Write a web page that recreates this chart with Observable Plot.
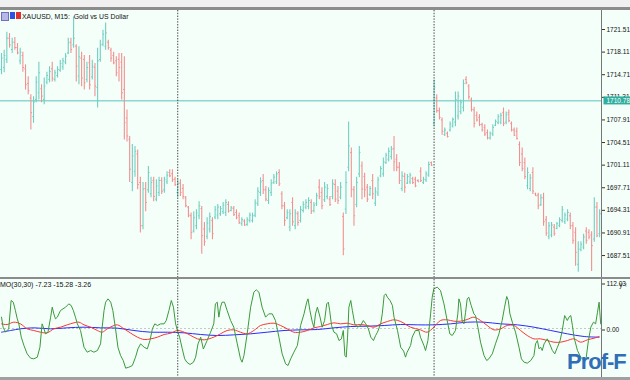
<!DOCTYPE html>
<html><head><meta charset="utf-8">
<script src="https://cdn.jsdelivr.net/npm/d3@7"></script>
<script src="https://cdn.jsdelivr.net/npm/@observablehq/plot@0.6"></script>
<style>
html,body{margin:0;padding:0;}
body{width:630px;height:380px;overflow:hidden;background:#ececec;font-family:"Liberation Sans",Arial,sans-serif;}
#wrap{position:relative;width:630px;height:380px;}
#topbar{position:absolute;left:0;top:0;width:630px;height:7px;background:#f0f0f0;border-bottom:3px solid #8c8c8c;}
#main{position:absolute;left:0;top:10px;}
#sep{position:absolute;left:0;top:277px;width:630px;height:2px;background:#8c8c8c;}
#ind{position:absolute;left:0;top:279px;}
#bottom{position:absolute;left:0;top:377px;width:630px;height:3px;background:#a0a0a0;}
#title{position:absolute;left:22px;top:12.5px;font-size:6.9px;color:#111;white-space:pre;}
#icons{position:absolute;left:1px;top:12px;height:8px;}
#icons span{position:absolute;top:0;height:7px;}
#indlabel{position:absolute;left:0px;top:281px;font-size:7px;color:#111;white-space:pre;}
#logo{position:absolute;left:567px;top:350px;font-size:22px;line-height:24px;font-weight:bold;color:#2f6fb8;font-family:"Liberation Sans",Arial,sans-serif;letter-spacing:-1px;}
</style></head>
<body><div id="wrap">
<div id="topbar"></div>
<div id="main"></div>
<div id="sep"></div>
<div id="ind"></div>
<div id="bottom"></div>
<div id="icons"><span style="left:0;width:6px;background:#b8b8e8;border:1px solid #7070c0"></span><span style="left:9px;width:5px;background:#3050e0"></span><span style="left:15px;width:5px;background:#e03030"></span></div>
<div id="title">XAUUSD, M15:  Gold vs US Dollar</div>
<div id="indlabel">MO(30,30) -7.23 -15.28 -3.26</div>
<div id="logo">Prof-F</div>
</div>
<script>
// ---- OHLC data (XAUUSD M15), oldest first ----
const open = [
1715.5,1715.8,1717.0,1720.2,1718.5,1719.6,1718.8,1716.8,1717.6,1715.6,
1713.4,1711.2,1708.4,1711.0,1712.0,1712.6,1711.0,1713.6,1714.0,1715.6,
1714.0,1714.6,1715.4,1715.9,1716.6,1718.0,1719.6,1719.2,1719.0,1714.5,
1717.2,1717.0,1714.0,1716.5,1714.4,1715.8,1712.8,1717.0,1719.3,1719.0,
1719.6,1718.4,1717.6,1716.8,1717.0,1716.6,1712.5,1708.2,1705.0,1698.5,
1700.2,1702.8,1698.5,1692.0,1697.6,1697.4,1696.8,1698.8,1696.0,1697.0,
1698.8,1697.4,1698.6,1700.0,1699.8,1699.0,1697.0,1698.4,1697.6,1696.2,
1694.8,1693.5,1691.2,1692.0,1693.5,1694.6,1691.5,1690.4,1691.5,1692.8,
1693.3,1693.6,1693.8,1694.1,1694.0,1695.2,1694.3,1694.6,1694.0,1693.5,
1692.3,1692.7,1692.2,1692.8,1692.8,1693.6,1695.4,1697.0,1698.8,1697.4,
1695.8,1697.0,1698.5,1698.6,1700.0,1696.8,1695.0,1693.2,1691.8,1695.5,
1692.0,1693.8,1692.8,1694.3,1694.8,1694.9,1695.5,1694.3,1695.3,1697.8,
1697.0,1695.9,1696.4,1696.0,1696.4,1698.2,1697.2,1696.3,1693.4,1694.5,
1700.8,1703.0,1697.4,1695.2,1699.8,1701.0,1699.4,1697.8,1696.7,1698.8,
1695.4,1696.9,1699.5,1699.8,1701.5,1702.0,1702.4,1703.6,1702.0,1700.8,
1697.6,1699.4,1698.4,1698.6,1699.1,1699.0,1698.8,1700.2,1698.5,1698.9,
1699.6,1701.5,1707.4,1711.2,1709.3,1707.9,1705.7,1705.9,1706.4,1707.0,
1707.6,1708.5,1709.2,1709.8,1714.0,1713.0,1710.9,1709.4,1708.6,1708.3,
1707.2,1706.8,1706.0,1705.2,1705.8,1707.1,1707.5,1707.6,1709.0,1707.6,
1709.0,1707.4,1706.4,1706.2,1704.2,1702.8,1701.5,1698.0,1697.6,1700.0,
1696.8,1696.6,1695.2,1696.2,1692.9,1690.4,1690.6,1691.8,1691.6,1692.0,
1692.8,1692.6,1693.0,1693.5,1692.0,1691.0,1686.2,1688.4,1688.8,1691.2,
1691.0,1690.6,1690.0,1694.8,1690.8];
const high = [
1717.9,1718.4,1721.1,1720.9,1720.2,1720.3,1719.4,1718.7,1718.1,1716.2,
1714.4,1711.7,1711.4,1714.4,1716.6,1713.2,1714.2,1715.1,1715.9,1716.6,
1715.4,1715.9,1716.9,1717.2,1717.9,1720.2,1720.2,1723.4,1719.2,1718.9,
1718.1,1717.6,1716.6,1717.6,1716.9,1716.4,1718.7,1719.9,1721.4,1722.5,
1719.9,1718.7,1718.1,1717.4,1717.9,1717.9,1717.4,1709.4,1705.4,1704.2,
1703.9,1703.4,1699.3,1698.5,1698.5,1700.9,1699.3,1699.3,1698.9,1699.3,
1699.2,1699.3,1700.1,1700.4,1700.4,1699.3,1698.9,1698.9,1698.2,1696.4,
1694.9,1693.9,1694.1,1694.4,1695.6,1694.9,1692.5,1693.2,1693.9,1693.2,
1694.9,1695.2,1694.9,1695.5,1695.9,1695.6,1694.9,1694.9,1694.4,1693.9,
1693.2,1692.9,1693.2,1693.9,1693.9,1695.9,1697.7,1699.2,1699.7,1697.9,
1697.7,1698.9,1699.7,1700.1,1700.4,1697.1,1695.5,1694.4,1694.4,1696.2,
1694.4,1694.1,1694.9,1695.6,1695.9,1696.2,1695.9,1695.5,1696.9,1698.9,
1697.7,1698.5,1698.2,1696.4,1698.9,1698.9,1697.9,1698.5,1693.9,1700.1,
1707.6,1703.7,1697.9,1699.3,1703.9,1701.6,1699.9,1698.2,1697.9,1699.7,
1697.7,1699.3,1700.9,1702.2,1702.9,1703.7,1703.9,1705.4,1702.7,1701.5,
1700.1,1699.9,1699.7,1699.9,1699.3,1699.3,1698.9,1700.7,1699.3,1700.1,
1701.6,1701.6,1713.9,1711.7,1709.7,1708.2,1706.7,1706.1,1707.6,1708.2,
1712.1,1712.1,1710.9,1713.9,1714.4,1713.2,1711.2,1709.8,1709.1,1708.7,
1707.4,1707.2,1706.4,1706.1,1707.2,1707.9,1708.7,1708.9,1709.7,1709.1,
1709.4,1707.6,1706.7,1706.7,1704.6,1703.7,1702.2,1700.7,1699.7,1700.7,
1696.9,1696.9,1696.7,1696.9,1693.4,1692.5,1692.5,1692.2,1692.5,1693.2,
1694.9,1693.9,1694.4,1693.9,1692.5,1691.7,1689.6,1689.6,1690.7,1691.7,
1691.4,1691.1,1696.2,1695.5,1694.4];
const low = [
1714.7,1715.0,1716.4,1718.7,1717.9,1718.4,1717.7,1716.2,1715.1,1712.4,
1711.7,1706.4,1707.4,1710.5,1710.9,1710.5,1710.2,1713.2,1713.5,1713.6,
1713.6,1714.2,1715.1,1715.4,1716.2,1717.7,1717.9,1718.7,1713.6,1713.2,
1712.9,1712.4,1713.5,1712.4,1713.9,1711.4,1709.7,1716.6,1718.9,1718.4,
1718.4,1716.6,1716.2,1714.4,1713.6,1710.9,1704.9,1704.6,1698.5,1697.1,
1699.3,1697.4,1690.9,1691.4,1694.1,1696.9,1696.2,1695.6,1695.6,1696.4,
1696.7,1696.9,1698.2,1699.2,1698.5,1697.9,1696.2,1696.4,1695.9,1694.7,
1693.2,1689.9,1690.9,1691.4,1692.9,1687.7,1688.9,1689.9,1690.9,1689.9,
1692.9,1692.9,1693.4,1693.7,1693.4,1693.9,1694.1,1693.4,1692.9,1692.2,
1691.9,1691.9,1691.9,1692.4,1692.4,1693.2,1694.9,1696.4,1696.7,1695.6,
1695.2,1696.4,1698.2,1698.2,1697.9,1694.4,1691.9,1692.9,1691.1,1691.9,
1691.4,1691.9,1692.4,1693.9,1694.4,1694.4,1693.7,1693.9,1694.9,1695.9,
1694.4,1695.5,1695.9,1694.9,1695.9,1695.5,1695.2,1695.9,1687.5,1693.7,
1700.1,1696.2,1691.9,1694.7,1699.2,1695.9,1696.2,1695.5,1696.4,1695.9,
1694.9,1696.4,1699.2,1699.3,1701.2,1701.6,1701.9,1700.1,1700.1,1698.2,
1697.1,1696.9,1698.2,1698.2,1698.2,1697.7,1698.5,1698.5,1698.2,1698.5,
1699.3,1700.9,1706.9,1708.9,1707.9,1705.6,1705.4,1705.2,1706.1,1706.7,
1706.9,1707.9,1708.7,1709.1,1713.2,1710.9,1709.1,1706.7,1707.6,1706.9,
1706.1,1705.4,1704.9,1704.9,1705.4,1706.9,1707.2,1707.2,1706.9,1707.2,
1707.5,1706.1,1705.4,1704.9,1700.9,1700.1,1698.9,1697.4,1697.1,1696.7,
1696.4,1694.4,1694.9,1691.9,1690.4,1689.9,1690.2,1690.4,1691.4,1691.7,
1692.4,1692.2,1692.6,1691.4,1689.2,1685.9,1685.0,1688.1,1688.4,1689.2,
1689.9,1685.1,1689.5,1690.2,1690.2];
const close = [
1717.2,1717.6,1720.2,1719.2,1719.6,1718.8,1718.0,1718.1,1715.8,1713.2,
1712.3,1709.0,1710.6,1713.6,1715.0,1711.5,1713.0,1714.6,1715.2,1714.2,
1715.0,1715.5,1716.4,1716.8,1717.5,1719.5,1718.5,1720.2,1716.0,1717.4,
1714.2,1713.5,1715.8,1713.2,1716.0,1713.0,1716.8,1719.2,1720.8,1721.0,
1718.8,1717.2,1716.5,1715.0,1715.8,1712.0,1707.5,1705.5,1700.5,1702.5,
1703.2,1698.2,1692.0,1697.5,1695.5,1700.0,1698.5,1696.4,1698.0,1698.8,
1697.2,1698.9,1699.6,1699.5,1698.9,1698.2,1698.4,1697.0,1696.4,1695.0,
1693.6,1691.0,1693.2,1693.9,1695.0,1690.5,1689.6,1692.4,1693.4,1690.8,
1694.4,1694.8,1694.6,1695.1,1695.5,1694.2,1694.7,1693.7,1693.2,1692.5,
1692.9,1692.1,1692.9,1693.6,1693.5,1695.4,1697.2,1698.6,1697.4,1696.0,
1697.3,1698.4,1699.3,1699.8,1698.3,1695.0,1692.8,1694.0,1693.8,1692.6,
1693.9,1692.5,1694.4,1695.2,1695.5,1695.8,1694.2,1695.1,1696.5,1696.4,
1695.0,1697.8,1697.6,1695.2,1698.3,1696.0,1695.8,1697.8,1688.5,1698.5,
1704.0,1697.5,1693.5,1698.5,1703.0,1697.5,1697.4,1696.0,1697.6,1696.8,
1697.1,1698.9,1700.6,1701.6,1702.6,1703.2,1703.5,1701.6,1700.8,1698.8,
1699.5,1697.8,1699.4,1699.6,1698.5,1698.0,1698.6,1698.8,1699.0,1699.8,
1701.2,1701.1,1712.8,1709.3,1708.3,1706.2,1706.4,1705.4,1707.3,1708.0,
1711.0,1711.5,1710.5,1713.4,1713.5,1711.4,1709.5,1707.4,1707.9,1707.2,
1706.4,1705.8,1705.2,1705.9,1706.8,1707.7,1708.4,1708.6,1707.4,1708.7,
1707.8,1706.4,1705.6,1705.1,1701.5,1700.6,1699.4,1700.0,1699.2,1697.2,
1696.5,1695.0,1696.2,1692.6,1690.9,1692.0,1692.1,1690.8,1692.3,1692.9,
1694.4,1693.6,1694.0,1692.0,1689.8,1688.0,1688.5,1689.2,1690.3,1689.8,
1690.3,1689.0,1694.8,1690.5,1693.8];

// day separators (bar index where a new day starts)
const daySeparators = [66, 162];
// horizontal line object
const hLinePrice = 1710.78;
// price axis ticks
const priceTicks = [1721.51,1718.11,1714.71,1711.31,1707.91,1704.51,1701.11,1697.71,1694.31,1690.91,1687.51];

// ---- oscillator sub-window (bar index, value) ----
const greenX = [0,0.6,1.5,2.7,3.6,4.4,5.2,5.9,6.5,7.4,8.4,9.6,10.9,12.1,13.4,14.4,15.2,15.9,16.5,17.4,18.4,19.0,19.6,20.2,20.9,22.1,24.0,25.2,26.1,26.9,27.7,28.4,29.6,30.9,32.1,33.4,34.6,35.9,37.1,37.7,38.4,39.0,39.9,40.9,41.7,42.7,43.6,44.6,45.6,46.5,47.7,49.0,50.2,51.1,52.1,53.4,54.6,55.6,56.5,57.4,58.4,59.6,60.9,61.7,62.7,63.6,64.4,65.2,65.9,66.7,67.7,68.6,69.4,70.6,71.9,72.7,73.6,74.6,75.6,77.0,78.3,79.5,80.1,80.8,81.4,82.0,82.6,83.5,84.5,85.8,87.0,88.3,89.5,90.1,90.8,92.0,93.3,94.5,95.4,96.4,97.6,98.9,100.1,101.4,102.6,103.9,105.1,106.4,107.3,108.3,109.5,110.8,112.0,113.3,114.3,114.8,115.5,116.4,117.0,117.6,118.3,119.3,120.1,121.0,121.8,122.4,122.9,123.6,124.5,125.5,126.4,127.3,128.0,128.6,129.1,129.6,130.1,130.8,131.4,132.3,133.3,134.5,135.5,136.4,137.4,138.3,139.3,140.1,140.8,142.0,142.6,143.3,143.9,144.5,145.5,146.4,147.0,148.3,149.5,150.6,151.3,151.9,153.2,153.8,155.0,156.3,156.9,158.2,158.8,159.7,160.7,161.3,161.9,163.2,164.4,165.7,166.9,167.9,168.8,170.0,170.9,171.3,171.9,172.5,173.2,173.8,174.4,175.0,175.9,176.9,177.5,178.4,179.4,180.7,181.7,182.5,183.8,185.0,186.3,187.5,188.4,189.2,189.8,190.4,191.3,192.5,193.8,194.7,195.7,196.9,198.2,199.4,200.0,200.7,201.3,201.9,202.5,203.2,204.4,205.3,206.3,207.2,208.2,209.2,210.0,210.9,211.9,212.5,213.2,213.8,214.4,215.7,216.9,218.2,219.0,219.8,220.7,221.7,222.5,223.2,223.8,224.4];
const greenY = [27.6,3.2,-9.0,-0.8,68.2,64.1,43.8,23.5,11.3,-21.1,-41.4,-61.7,-72.3,-73.9,-69.8,-45.5,11.3,-0.8,-13.0,-9.0,27.6,51.9,35.7,23.5,27.6,43.8,51.9,60.0,56.0,43.8,27.6,11.3,-4.9,-45.5,-57.7,-53.6,-57.7,-53.6,-37.4,3.2,43.8,64.1,72.2,64.1,43.8,-0.8,-45.5,-65.8,-78.0,-96.6,-94.2,-90.1,-69.8,-49.6,-37.4,-45.5,-49.6,-29.3,-0.8,11.3,7.3,11.3,11.3,19.5,43.8,68.2,51.9,11.3,-4.9,-21.1,-49.6,-73.9,-82.0,-87.7,-82.0,-69.8,-37.4,-21.1,-50.0,-29.3,-9.0,11.3,60.0,64.1,27.6,51.9,64.1,64.1,43.8,19.5,3.2,-37.4,-73.9,-82.0,-65.8,-13.0,51.9,88.4,94.1,88.4,51.9,27.6,35.7,35.7,19.5,-21.1,-61.7,-86.1,-90.1,-73.9,-57.7,-41.4,7.3,35.7,64.1,72.2,43.8,15.4,3.2,35.7,51.9,27.6,3.2,19.5,60.0,64.1,43.8,7.3,-9.0,-13.0,-29.3,-25.2,-4.9,-65.8,-69.8,-21.1,51.9,68.2,43.8,11.3,3.2,7.3,19.5,11.3,-0.8,-21.1,-29.3,-17.1,-9.0,11.3,35.7,80.3,84.4,76.3,68.2,56.0,27.6,-4.9,-45.5,-55.0,-69.8,-57.7,-41.4,-21.1,-4.9,-4.9,-21.1,-41.4,-53.6,-29.3,35.7,76.3,96.6,100.6,92.5,60.0,19.5,-13.0,-17.1,-4.9,35.7,72.2,60.0,19.5,11.3,39.7,72.2,76.3,56.0,35.7,31.6,3.2,-33.3,-65.8,-78.0,-73.9,-61.7,-37.4,-13.0,19.5,51.9,77.9,68.2,35.7,15.4,-9.0,-45.5,-73.9,-82.0,-84.4,-78.0,-65.8,-37.4,-29.3,-49.6,-45.5,-53.6,-37.4,-25.2,-37.4,-53.6,-61.7,-45.5,-29.3,-4.9,31.6,19.5,27.6,31.6,7.3,-21.1,-53.6,-69.8,-78.0,-69.8,-29.3,3.2,15.4,11.3,39.7,64.1,11.3];
const redX = [0,2.1,4.6,7.1,9.6,12.1,14.6,17.1,19.6,22.1,24.6,27.1,29.0,30.9,33.4,35.9,37.7,39.6,42.1,43.4,45.9,48.4,50.9,53.4,55.9,58.4,60.9,63.4,65.9,68.4,70.9,73.4,75.9,79.5,82.0,84.5,87.0,89.5,92.0,94.5,97.0,99.5,102.0,104.5,107.0,109.5,112.0,114.5,117.0,119.5,122.0,124.5,127.0,129.5,132.0,134.5,137.0,139.5,142.0,144.5,147.0,149.5,153.2,156.9,159.4,161.9,164.4,166.9,169.4,171.9,174.4,176.9,179.4,181.9,184.4,186.9,189.4,191.9,194.4,196.9,199.4,201.9,204.4,206.9,209.4,211.9,214.4,216.9,219.4,221.9,223.8];
const redY = [11.3,9.7,15.4,11.3,-0.8,-4.9,-9.0,-10.6,-0.8,3.2,8.9,13.8,15.4,8.9,3.2,-4.9,-9.0,-0.8,7.3,8.9,-0.8,-11.4,-21.1,-26.8,-25.2,-21.1,-14.6,-11.4,-4.9,-9.0,-17.1,-25.2,-27.6,-21.1,-13.0,-4.9,-3.3,-9.0,-13.0,-4.9,7.3,11.3,12.9,7.3,-0.8,-9.0,-9.0,-4.9,1.6,4.8,9.7,13.8,11.3,12.9,8.9,9.7,7.3,3.2,11.3,17.0,21.1,17.0,3.2,-3.3,-9.0,3.2,19.5,21.1,17.8,17.8,21.9,27.6,19.5,7.3,-3.3,-0.8,7.3,7.3,-4.9,-17.1,-25.2,-25.2,-29.3,-33.3,-33.3,-29.3,-25.2,-33.3,-27.6,-23.6,-19.5];
const blueX = [0,3.4,7.1,12.1,18.4,24.6,30.9,37.1,43.4,49.6,55.9,62.1,68.4,74.6,80.8,87.0,93.3,99.5,105.8,112.0,118.3,124.5,130.8,137.0,143.3,149.5,155.7,161.9,168.2,174.4,180.7,186.9,193.2,199.4,205.7,211.9,218.2,223.8];
const blueY = [-9.0,-4.9,-0.8,1.6,-0.8,1.6,3.2,1.6,0.8,-4.9,-9.0,-9.0,-10.6,-14.6,-17.1,-15.5,-13.0,-9.0,-4.9,-3.3,-2.5,1.6,4.8,5.6,7.3,9.7,8.9,8.9,11.3,15.4,15.4,11.3,8.9,3.2,-4.9,-13.0,-19.5,-21.1];
const oscTicks = [112.03, 0.00];

const teal = "#6fcfc0", salmon = "#f29090";
const N = close.length;
const bars = d3.range(N).map(i => ({i, o: open[i], h: high[i], l: low[i], c: close[i]}));
const barColor = d => d.c >= d.o ? teal : salmon;
const xDomain = [-0.375, N - 0.3];
const fontFam = '"Liberation Sans", Arial, sans-serif';

const main = Plot.plot({
  width: 630, height: 267,
  marginLeft: 0, marginRight: 29, marginTop: 0, marginBottom: 0,
  style: {background: "#f5fffa", fontFamily: fontFam, fontSize: "6.5px", color: "#111", overflow: "visible"},
  color: {type: "identity"},
  x: {domain: xDomain, axis: null},
  y: {domain: [1684.21, 1724.37], axis: null},
  marks: [
    Plot.ruleY([hLinePrice], {stroke: "#57c4bc", strokeWidth: 1}),
    Plot.ruleX(bars, {x: "i", y1: "l", y2: "h", stroke: barColor, strokeWidth: 1.1}),
    Plot.link(bars, {x1: d => d.i - 0.45, x2: "i", y1: "o", y2: "o", stroke: barColor, strokeWidth: 1}),
    Plot.link(bars, {x1: "i", x2: d => d.i + 0.45, y1: "c", y2: "c", stroke: barColor, strokeWidth: 1}),
    Plot.ruleX(daySeparators, {stroke: "#444", strokeWidth: 1, strokeDasharray: "1.4,1.4"}),
    Plot.axisY(priceTicks, {anchor: "right", tickSize: 3, tickFormat: d => d.toFixed(2), fontSize: 6.5, tickPadding: 2, stroke: "#333"}),
    Plot.ruleX([xDomain[1]], {stroke: "#777", strokeWidth: 1}),
    Plot.text([hLinePrice], {x: xDomain[1], y: d => d, text: d => d.toFixed(2), dx: 5, textAnchor: "start", fill: "white", fontSize: 6.5, className: "plabel"})
  ]
});
document.getElementById("main").appendChild(main);
// background box for the price label (follows the text's own transform)
main.querySelectorAll(".plabel text").forEach(t => {
  const b = t.getBBox();
  const r = document.createElementNS("http://www.w3.org/2000/svg", "rect");
  r.setAttribute("x", b.x - 3); r.setAttribute("y", b.y - 0.5);
  r.setAttribute("width", b.width + 6); r.setAttribute("height", b.height + 1);
  r.setAttribute("fill", "#2fae9f");
  const tf = t.getAttribute("transform");
  if (tf) r.setAttribute("transform", tf);
  t.parentNode.insertBefore(r, t);
});

const green = greenX.map((x, k) => ({x, y: greenY[k]}));
const red = redX.map((x, k) => ({x, y: redY[k]}));
const blue = blueX.map((x, k) => ({x, y: blueY[k]}));

const ind = Plot.plot({
  width: 630, height: 98,
  marginLeft: 0, marginRight: 29, marginTop: 0, marginBottom: 0,
  style: {background: "#f5fffa", fontFamily: fontFam, fontSize: "6.5px", color: "#111", overflow: "visible"},
  x: {domain: xDomain, axis: null},
  y: {domain: [-119.3, 119.3], axis: null},
  marks: [
    Plot.ruleY([0], {stroke: "#c8c8c8", strokeDasharray: "2,2"}),
    Plot.line(blue, {x: "x", y: "y", stroke: "#2a2aff", strokeWidth: 1, curve: "catmull-rom"}),
    Plot.line(red, {x: "x", y: "y", stroke: "#ff3333", strokeWidth: 1, curve: "catmull-rom"}),
    Plot.line(green, {x: "x", y: "y", stroke: "#3a9a3a", strokeWidth: 1}),
    Plot.ruleX(daySeparators, {stroke: "#444", strokeWidth: 1, strokeDasharray: "1.4,1.4"}),
    Plot.axisY(oscTicks, {anchor: "right", tickSize: 3, tickFormat: d => d.toFixed(2), fontSize: 6.5, tickPadding: 2, stroke: "#333", dy: 1.5}),
    Plot.ruleX([xDomain[1]], {stroke: "#777", strokeWidth: 1})
  ]
});
document.getElementById("ind").appendChild(ind);
</script>
</body></html>
